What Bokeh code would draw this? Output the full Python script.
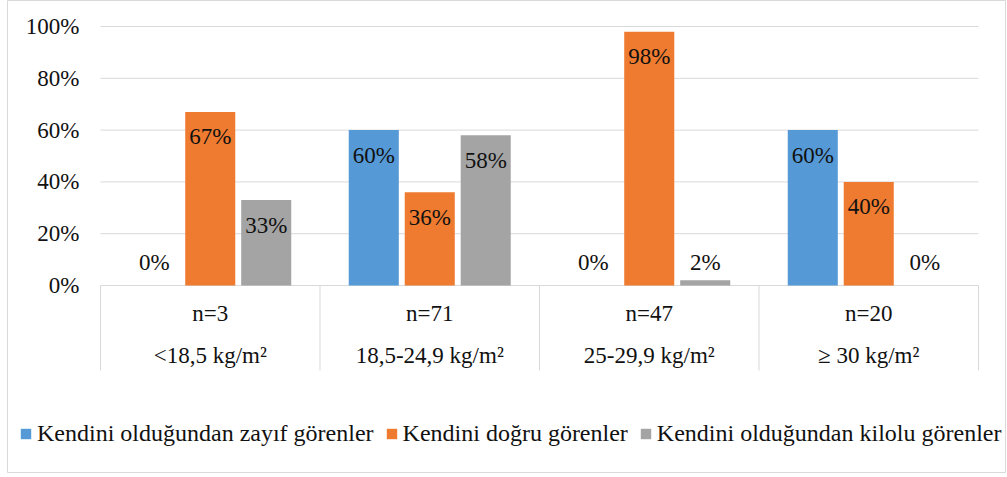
import numpy as np
from bokeh.plotting import figure
from bokeh.models import ColumnDataSource, Legend, LegendItem
from bokeh.core.properties import value
from bokeh.embed import file_html
from bokeh.resources import INLINE

# ---- data ----
n_labels = ["n=3", "n=71", "n=47", "n=20"]
bmi_labels = ["<18,5 kg/m²", "18,5-24,9 kg/m²", "25-29,9 kg/m²", "≥ 30 kg/m²"]
series_names = ["Kendini olduğundan zayıf görenler",
                "Kendini doğru görenler",
                "Kendini olduğundan kilolu görenler"]
thin = [0.00, 0.60, 0.00, 0.60]
right = [0.67, 0.36, 0.98, 0.40]
over = [0.33, 0.58, 0.02, 0.00]
y_ticks = [0, 0.2, 0.4, 0.6, 0.8, 1.0]
y_tick_labels = ["0%", "20%", "40%", "60%", "80%", "100%"]

colors = ["#5599d6", "#ee7b30", "#a4a4a4"]
FONT = "'Liberation Serif', serif"
TXT = "#111111"
GRID = "#d9d9d9"

p = figure(width=1006, height=473, x_range=(-0.4237, 4.1276), y_range=(-0.7259, 1.1004),
           x_axis_type=None, y_axis_type=None, output_backend="svg", toolbar_location=None,
           min_border_left=7, min_border_right=0, min_border_top=0, min_border_bottom=0)
p.outline_line_color = GRID
p.outline_line_width = 1
p.xgrid.visible = False
p.ygrid.visible = False

n_cat = len(n_labels)
# horizontal gridlines and baseline
p.segment(x0=[0] * len(y_ticks), y0=y_ticks, x1=[n_cat] * len(y_ticks), y1=y_ticks,
          line_color=GRID, line_width=1)
# y tick labels
p.text(x=[-0.0957] * len(y_ticks), y=y_ticks, text=y_tick_labels,
       text_align="right", text_baseline="middle",
       text_font=value(FONT), text_font_size="23px", text_color=TXT)

# category separators
sep_x = list(range(n_cat + 1))
p.segment(x0=sep_x, y0=[0] * len(sep_x), x1=sep_x, y1=[-0.328] * len(sep_x),
          line_color=GRID, line_width=1)

centers = np.arange(n_cat) + 0.5
p.text(x=centers, y=[-0.108] * n_cat, text=n_labels, text_align="center", text_baseline="middle",
       text_font=value(FONT), text_font_size="23px", text_color=TXT)
p.text(x=centers, y=[-0.270] * n_cat, text=bmi_labels, text_align="center", text_baseline="middle",
       text_font=value(FONT), text_font_size="23px", text_color=TXT)

offsets = [-0.255, 0.0, 0.255]
bar_w = 0.228
items = []
for vals, off, col, name in zip([thin, right, over], offsets, colors, series_names):
    vals = np.array(vals)
    src = ColumnDataSource(dict(x=centers + off, top=vals,
                                ly=np.maximum(vals, 0.185),
                                lab=[f"{round(v*100)}%" for v in vals]))
    r = p.vbar(x="x", top="top", bottom=0, width=bar_w, source=src,
               fill_color=col, line_color=None)
    p.text(x="x", y="ly", text="lab", source=src, y_offset=25,
           text_align="center", text_baseline="middle",
           text_font=value(FONT), text_font_size="23px", text_color=TXT)
    items.append(LegendItem(label=name, renderers=[r]))

legend = Legend(items=items, location=(12, 26), orientation="horizontal",
                label_text_font=FONT, label_text_font_size="24px", label_text_color=TXT,
                glyph_width=13, glyph_height=13, label_standoff=5, spacing=11,
                padding=0, margin=0, border_line_color=None, background_fill_alpha=0)
p.add_layout(legend)

open("out.html", "w").write(file_html(p, INLINE))
